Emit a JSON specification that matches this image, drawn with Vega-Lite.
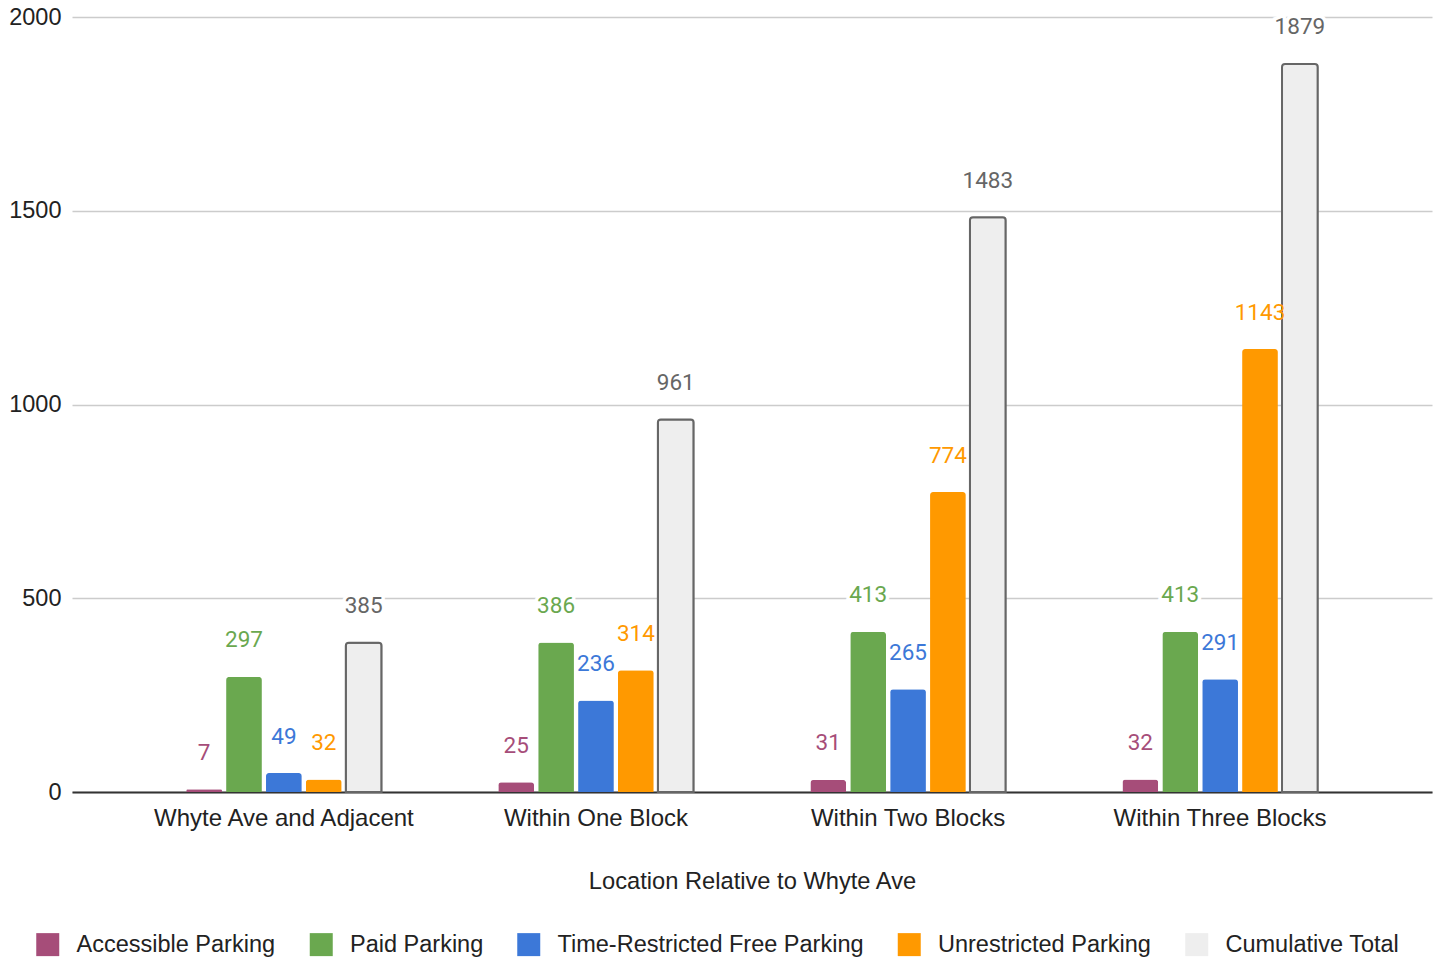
{
  "$schema": "https://vega.github.io/schema/vega-lite/v6.json",
  "autosize": "none",
  "width": 1360,
  "height": 775,
  "padding": {"left": 72, "top": 17, "right": 6, "bottom": 166},
  "background": "white",
  "config": {
    "view": {"stroke": null},
    "axis": {"labelFont": "Liberation Sans", "titleFont": "Liberation Sans", "labelColor": "#222222", "titleColor": "#222222", "labelFontSize": 24, "titleFontSize": 23.7, "titleFontWeight": "normal", "labelLimit": 0}
  },
  "data": {
    "values": [
      {"location": "Whyte Ave and Adjacent", "series": "Accessible Parking", "value": 7},
      {"location": "Whyte Ave and Adjacent", "series": "Paid Parking", "value": 297},
      {"location": "Whyte Ave and Adjacent", "series": "Time-Restricted Free Parking", "value": 49},
      {"location": "Whyte Ave and Adjacent", "series": "Unrestricted Parking", "value": 32},
      {"location": "Whyte Ave and Adjacent", "series": "Cumulative Total", "value": 385},
      {"location": "Within One Block", "series": "Accessible Parking", "value": 25},
      {"location": "Within One Block", "series": "Paid Parking", "value": 386},
      {"location": "Within One Block", "series": "Time-Restricted Free Parking", "value": 236},
      {"location": "Within One Block", "series": "Unrestricted Parking", "value": 314},
      {"location": "Within One Block", "series": "Cumulative Total", "value": 961},
      {"location": "Within Two Blocks", "series": "Accessible Parking", "value": 31},
      {"location": "Within Two Blocks", "series": "Paid Parking", "value": 413},
      {"location": "Within Two Blocks", "series": "Time-Restricted Free Parking", "value": 265},
      {"location": "Within Two Blocks", "series": "Unrestricted Parking", "value": 774},
      {"location": "Within Two Blocks", "series": "Cumulative Total", "value": 1483},
      {"location": "Within Three Blocks", "series": "Accessible Parking", "value": 32},
      {"location": "Within Three Blocks", "series": "Paid Parking", "value": 413},
      {"location": "Within Three Blocks", "series": "Time-Restricted Free Parking", "value": 291},
      {"location": "Within Three Blocks", "series": "Unrestricted Parking", "value": 1143},
      {"location": "Within Three Blocks", "series": "Cumulative Total", "value": 1879}
    ]
  },
  "encoding": {
    "x": {
      "field": "location", "type": "nominal",
      "sort": ["Whyte Ave and Adjacent", "Within One Block", "Within Two Blocks", "Within Three Blocks"],
      "scale": {"paddingInner": 0.374, "paddingOuter": 0.366},
      "axis": {"labelAngle": 0, "ticks": false, "labelPadding": 14, "domainColor": "#333333", "domainWidth": 2, "title": "Location Relative to Whyte Ave", "titlePadding": 39}
    },
    "xOffset": {
      "field": "series", "type": "nominal",
      "sort": ["Accessible Parking", "Paid Parking", "Time-Restricted Free Parking", "Unrestricted Parking", "Cumulative Total"],
      "scale": {"paddingInner": 0.1035, "paddingOuter": 0}
    },
    "y": {
      "field": "value", "type": "quantitative",
      "scale": {"domain": [0, 2000], "nice": false},
      "axis": {"values": [0, 500, 1000, 1500, 2000], "format": "d", "title": null, "domain": false, "ticks": false, "labelPadding": 11, "gridColor": "#cccccc", "gridWidth": 1.5, "labelFontSize": 23.5}
    }
  },
  "layer": [
    {
      "mark": {"type": "text", "font": "Roboto", "fontSize": 22.5, "baseline": "alphabetic", "dy": -29.5, "fill": "white", "stroke": "white", "strokeWidth": 7},
      "encoding": {"text": {"field": "value", "type": "quantitative"}}
    },
    {
      "mark": {"type": "bar", "cornerRadiusTopLeft": 3, "cornerRadiusTopRight": 3, "stroke": "#666666"},
      "encoding": {
        "color": {
          "field": "series", "type": "nominal",
          "scale": {
            "domain": ["Accessible Parking", "Paid Parking", "Time-Restricted Free Parking", "Unrestricted Parking", "Cumulative Total"],
            "range": ["#a64d79", "#6aa84f", "#3c78d8", "#ff9900", "#eeeeee"]
          },
          "legend": {
            "title": null, "orient": "none", "direction": "horizontal", "legendX": -36, "legendY": 915.5,
            "padding": 0, "symbolType": "square", "symbolSize": 529, "symbolStrokeWidth": 0,
            "labelFont": "Liberation Sans", "labelFontSize": 23.5, "labelColor": "#222222", "labelLimit": 0,
            "labelOffset": 17, "columnPadding": 33.5, "columns": 5, "rowPadding": 0
          }
        },
        "strokeWidth": {"condition": {"test": "datum.series === 'Cumulative Total'", "value": 2}, "value": 0}
      }
    },
    {
      "mark": {"type": "text", "font": "Roboto", "fontSize": 22.5, "baseline": "alphabetic", "dy": -29.5},
      "encoding": {
        "text": {"field": "value", "type": "quantitative"},
        "color": {
          "field": "series", "type": "nominal",
          "scale": {
            "domain": ["Accessible Parking", "Paid Parking", "Time-Restricted Free Parking", "Unrestricted Parking", "Cumulative Total"],
            "range": ["#a64d79", "#6aa84f", "#3c78d8", "#ff9900", "#666666"]
          },
          "legend": null
        }
      }
    }
  ],
  "resolve": {"scale": {"color": "independent"}}
}
